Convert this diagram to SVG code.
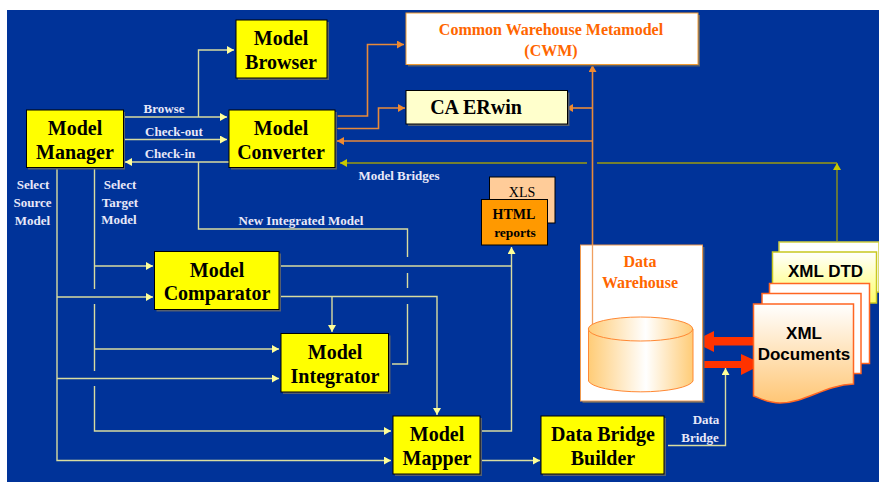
<svg xmlns="http://www.w3.org/2000/svg" width="879" height="482" viewBox="0 0 879 482">
<style>
.n{fill:#ffff00;stroke:#000;stroke-width:1}
.s{fill:#555f70}
.t{font-family:"Liberation Serif",serif;font-weight:bold;font-size:20px;fill:#000;text-anchor:middle}
.l{font-family:"Liberation Serif",serif;font-weight:bold;font-size:13px;fill:#e8e8f8;text-anchor:middle}
.o{fill:#ff6600}
.c{fill:none;stroke:#d8dca0;stroke-width:1.4}
.a{fill:none;stroke:#e88a3a;stroke-width:1.6}
.g{fill:none;stroke:#9a9a10;stroke-width:1.3}
.h{font-family:"Liberation Sans",sans-serif;font-weight:bold;fill:#000;text-anchor:middle;font-size:17px}
</style>
<defs>
<marker id="ay" markerUnits="userSpaceOnUse" markerWidth="8" markerHeight="8" refX="7" refY="4" orient="auto"><path d="M0 0L7 4L0 8Z" fill="#ffff99"/></marker>
<marker id="ao" markerUnits="userSpaceOnUse" markerWidth="8" markerHeight="8" refX="7" refY="4" orient="auto"><path d="M0 0L7 4L0 8Z" fill="#f08a30"/></marker>
<marker id="ag" markerUnits="userSpaceOnUse" markerWidth="8" markerHeight="8" refX="7" refY="4" orient="auto"><path d="M0 0L7 4L0 8Z" fill="#c8c800"/></marker>
<linearGradient id="cyl" x1="0" x2="1" y1="0" y2="0"><stop offset="0" stop-color="#ffcc77"/><stop offset="0.55" stop-color="#ffffff"/><stop offset="1" stop-color="#ffcc77"/></linearGradient>
<linearGradient id="doc" x1="0" x2="0" y1="0" y2="1"><stop offset="0" stop-color="#ffffff"/><stop offset="1" stop-color="#ffc675"/></linearGradient>
<linearGradient id="dtd" x1="0" x2="0" y1="0" y2="1"><stop offset="0" stop-color="#ffffff"/><stop offset="1" stop-color="#ffff66"/></linearGradient>
</defs>
<rect width="879" height="482" fill="#fff"/>
<rect x="7" y="10" width="872" height="472" fill="#003399"/>

<g id="connectors">
<path class="c" d="M124 117H227" marker-end="url(#ay)"/>
<path class="c" d="M198.500 117V50H234" marker-end="url(#ay)"/>
<path class="c" d="M124 139.500H227" marker-end="url(#ay)"/>
<path class="c" d="M229 162H125" marker-end="url(#ay)"/>
<path class="c" d="M198.500 162V229H407.500V257M407.500 273V288M407.500 304V364H392"/>
<path class="c" d="M57 168V460.500H391" marker-end="url(#ay)"/>
<path class="c" d="M57 297H153" marker-end="url(#ay)"/>
<path class="c" d="M57 378.500H279" marker-end="url(#ay)"/>
<path class="c" d="M94.500 168V289M94.500 304V371M94.500 386V431H391" marker-end="url(#ay)"/>
<path class="c" d="M94.500 266H153" marker-end="url(#ay)"/>
<path class="c" d="M94.500 349H279" marker-end="url(#ay)"/>
<path class="c" d="M281 266H511.500"/>
<path class="c" d="M281 296.500H437V415" marker-end="url(#ay)"/>
<path class="c" d="M332 296.500V332" marker-end="url(#ay)"/>
<path class="c" d="M482 431H511.500V247" marker-end="url(#ay)"/>
<path class="c" d="M482 460.500H540" marker-end="url(#ay)"/>
<path class="c" d="M668 445.500H725.500V368" marker-end="url(#ay)"/>
<path class="a" d="M592.500 246V65" marker-end="url(#ao)"/>
<path class="a" d="M592.500 108H566" marker-end="url(#ao)"/>
<path class="a" d="M592.500 141H337" marker-end="url(#ao)"/>
<path class="a" d="M338 116H367.500V44.500H404" marker-start="url(#ao)" marker-end="url(#ao)"/>
<path class="a" d="M338 128.500H378.500V108H405" marker-start="url(#ao)" marker-end="url(#ao)"/>
<path class="g" d="M837 241V163" stroke-width="1.3" marker-end="url(#ag)"/>
<path class="g" d="M837 163H597M587 163H340" marker-end="url(#ag)"/>
<path d="M693 341.500L714 331V337H754V345.500H714V352Z" fill="#ff3300"/>
<path d="M693 361H741V354L763 364L741 375V368H693Z" fill="#ff3300"/>
</g>

<g id="model-browser"><rect class="s" x="238" y="22" width="91" height="58"/><rect class="n" x="236" y="20" width="91" height="58"/><text class="t" x="281" y="45">Model</text><text class="t" x="281" y="69">Browser</text></g>
<g id="model-manager"><rect class="s" x="28" y="112" width="97" height="57.500"/><rect class="n" x="26.500" y="110" width="97" height="57.500"/><text class="t" x="75" y="135">Model</text><text class="t" x="75" y="159">Manager</text></g>
<g id="model-converter"><rect class="s" x="231" y="112" width="106" height="57.500"/><rect class="n" x="229" y="110" width="106" height="57.500"/><text class="t" x="281" y="135">Model</text><text class="t" x="281" y="159">Converter</text></g>
<g id="cwm"><rect class="s" x="408" y="15" width="292" height="51.500"/><rect x="406" y="13" width="292" height="51.500" fill="#fff" stroke="#f09a30" stroke-width="1"/><text class="t o" style="fill:#ff6600" font-size="16" x="551" y="34.500"><tspan font-size="16">Common Warehouse Metamodel</tspan></text><text class="t" style="fill:#ff6600" x="551" y="56"><tspan font-size="16">(CWM)</tspan></text></g>
<g id="ca-erwin"><rect class="s" x="408" y="92.500" width="161.500" height="33.500"/><rect x="406" y="90.500" width="161.500" height="33.500" fill="#ffffcc" stroke="#000"/><text class="t" x="476" y="114">CA ERwin</text></g>
<g id="model-comparator"><rect class="s" x="156.500" y="253.500" width="124.500" height="58"/><rect class="n" x="154.500" y="251.500" width="124.500" height="58"/><text class="t" x="217" y="277">Model</text><text class="t" x="217" y="300">Comparator</text></g>
<g id="model-integrator"><rect class="s" x="283" y="335.500" width="107.500" height="58.500"/><rect class="n" x="281" y="333.500" width="107.500" height="58.500"/><text class="t" x="335" y="359">Model</text><text class="t" x="335" y="383">Integrator</text></g>
<g id="model-mapper"><rect class="s" x="395" y="418" width="87" height="58"/><rect class="n" x="393" y="416" width="87" height="58"/><text class="t" x="437" y="441">Model</text><text class="t" x="437" y="465">Mapper</text></g>
<g id="data-bridge-builder"><rect class="s" x="543" y="418" width="123" height="58"/><rect class="n" x="541" y="416" width="123" height="58"/><text class="t" x="603" y="441">Data Bridge</text><text class="t" x="603" y="465">Builder</text></g>
<g id="xls"><rect x="489.500" y="177" width="65.500" height="46" fill="#ffcc99" stroke="#000"/><text class="t" style="font-size:14px;font-weight:normal" x="522" y="197">XLS</text></g>
<g id="html-reports"><rect x="481.500" y="199.500" width="66" height="45.500" fill="#ff9900" stroke="#000"/><text class="t" style="font-size:14px" x="514" y="219">HTML</text><text class="t" style="font-size:13.500px" x="515" y="237">reports</text></g>

<g id="data-warehouse"><rect class="s" x="582.500" y="247" width="122" height="156"/><rect x="580.500" y="245" width="122" height="156" fill="#fff" stroke="#ee9a50"/><path d="M592.500 245V329" stroke="#f0a060" stroke-width="1.300" fill="none"/><text class="t" style="fill:#ff6600;font-size:16px" x="640" y="267">Data</text><text class="t" style="fill:#ff6600;font-size:16px" x="640" y="288">Warehouse</text>
<path d="M588.500 329V381A52.500 12 0 0 0 693 381V329Z" fill="url(#cyl)" stroke="#ff8833"/><ellipse cx="640.500" cy="329" rx="52.250" ry="12" fill="url(#cyl)" stroke="#ff8833"/></g>

<g id="xml-dtd"><rect x="779" y="242" width="100" height="50" fill="#fff" stroke="#d0d040" stroke-width="1.500"/><rect x="772.500" y="252" width="104" height="51" fill="url(#dtd)" stroke="#c8c820" stroke-width="1.500"/><text class="h" x="825.500" y="277">XML DTD</text></g>
<g id="xml-documents"><rect x="769.500" y="283.500" width="100" height="80" fill="#fff" stroke="#ff6622" stroke-width="1.500"/><rect x="762" y="293.500" width="99" height="80" fill="#fff" stroke="#ff6622" stroke-width="1.500"/>
<path d="M753.500 304H853.500V384C825 385 805 403 780 403C768 403 760 398 753.500 396Z" fill="url(#doc)" stroke="#ff6622" stroke-width="1.500"/><text class="h" x="804" y="339">XML</text><text class="h" x="804" y="360">Documents</text></g>

<g id="labels">
<text class="l" x="164" y="113">Browse</text>
<text class="l" x="174" y="136">Check-out</text>
<text class="l" x="170" y="158">Check-in</text>
<text class="l" x="33" y="189">Select</text><text class="l" x="32.500" y="207">Source</text><text class="l" x="32.500" y="225">Model</text>
<text class="l" x="120" y="189">Select</text><text class="l" x="120" y="207">Target</text><text class="l" x="119" y="224">Model</text>
<text class="l" x="301" y="225">New Integrated Model</text>
<text class="l" x="399" y="180">Model Bridges</text>
<text class="l" x="706" y="424">Data</text>
<text class="l" x="700" y="442">Bridge</text>
</g>
</svg>
